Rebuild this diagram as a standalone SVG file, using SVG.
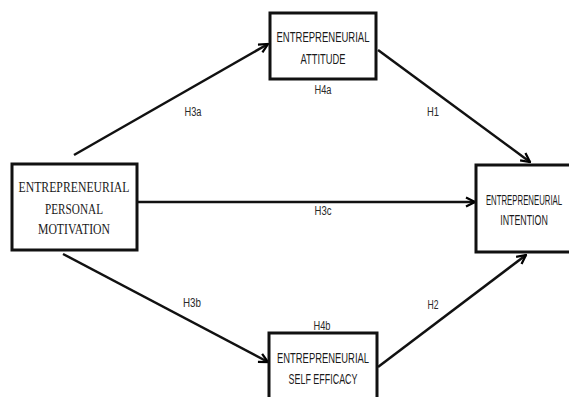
<svg xmlns="http://www.w3.org/2000/svg" width="569" height="397" viewBox="0 0 569 397">
<defs>
<marker id="arr" viewBox="0 0 10 10" refX="9" refY="5" markerWidth="4.5" markerHeight="4.5" orient="auto" markerUnits="strokeWidth">
<path d="M1,1 L9,5 L1,9" fill="none" stroke="#000" stroke-width="2"/>
</marker>
</defs>
<style>
.box{fill:#fff;stroke:#111;stroke-width:3}
.sans{font-family:"Liberation Sans",Arial,sans-serif;font-size:15px;fill:#1a1a1a;text-anchor:middle}
.serif{font-family:"Liberation Serif","Times New Roman",serif;font-size:15px;fill:#1a1a1a;text-anchor:middle}
.lbl{font-family:"Liberation Sans",Arial,sans-serif;font-size:12.5px;fill:#2a2a2a;text-anchor:middle}
.con line{stroke:#111;stroke-width:2.5;marker-end:url(#arr)}
</style>
<rect width="569" height="397" fill="#fff"/>
<g id="connectors" class="con">
<line x1="74" y1="155" x2="268" y2="44"/>
<line x1="378" y1="50" x2="530" y2="162"/>
<line x1="138" y1="202" x2="475" y2="202"/>
<line x1="63" y1="254" x2="268" y2="362"/>
<line x1="378" y1="367" x2="526" y2="255"/>
</g>
<g id="labels">
<text class="lbl" x="193" y="116" textLength="17" lengthAdjust="spacingAndGlyphs">H3a</text>
<text class="lbl" x="323" y="94" textLength="17" lengthAdjust="spacingAndGlyphs">H4a</text>
<text class="lbl" x="433" y="116" textLength="12" lengthAdjust="spacingAndGlyphs">H1</text>
<text class="lbl" x="323" y="215" textLength="17" lengthAdjust="spacingAndGlyphs">H3c</text>
<text class="lbl" x="192" y="307" textLength="18" lengthAdjust="spacingAndGlyphs">H3b</text>
<text class="lbl" x="322" y="330" textLength="17" lengthAdjust="spacingAndGlyphs">H4b</text>
<text class="lbl" x="433" y="309" textLength="11" lengthAdjust="spacingAndGlyphs">H2</text>
</g>
<g id="attitude">
<rect class="box" x="270" y="13" width="106" height="66"/>
<text class="sans" x="323" y="42" textLength="93" lengthAdjust="spacingAndGlyphs">ENTREPRENEURIAL</text>
<text class="sans" x="323" y="64" textLength="45" lengthAdjust="spacingAndGlyphs">ATTITUDE</text>
</g>
<g id="motivation">
<rect class="box" x="12" y="164" width="125" height="86"/>
<text class="serif" x="74" y="192" textLength="111" lengthAdjust="spacingAndGlyphs">ENTREPRENEURIAL</text>
<text class="serif" x="74" y="214" textLength="58" lengthAdjust="spacingAndGlyphs">PERSONAL</text>
<text class="serif" x="74" y="234" textLength="72" lengthAdjust="spacingAndGlyphs">MOTIVATION</text>
</g>
<g id="intention">
<path class="box" d="M569,165 H476 V252 H569"/>
<text class="sans" transform="translate(524,205) scale(0.52,1)" x="0" y="0">ENTREPRENEURIAL</text>
<text class="sans" transform="translate(524,225) scale(0.59,1)" x="0" y="0">INTENTION</text>
</g>
<g id="self-efficacy">
<path class="box" d="M269,397 V333 H377 V397"/>
<text class="sans" x="323" y="363" textLength="92" lengthAdjust="spacingAndGlyphs">ENTREPRENEURIAL</text>
<text class="sans" x="323" y="384" textLength="69" lengthAdjust="spacingAndGlyphs">SELF EFFICACY</text>
</g>
</svg>
